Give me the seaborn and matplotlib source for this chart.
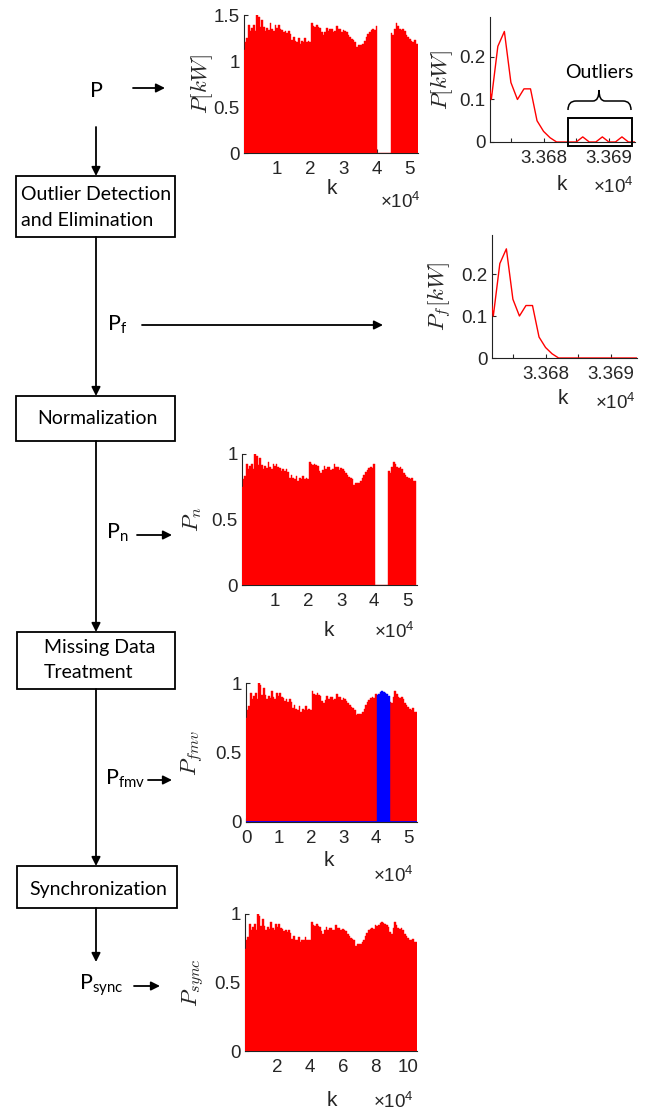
import numpy as np
import matplotlib
matplotlib.use('Agg')
import matplotlib.pyplot as plt
from matplotlib.patches import Rectangle, PathPatch
from matplotlib.path import Path
import seaborn as sns

# raw power profile P [kW], one value every 500 samples (nan = missing block)
k_step = 500
p_kw = [1.12, 1.21, 1.25, 1.39, 1.33, 1.36, 1.39, 1.33, 1.50, 1.48,
        1.37, 1.45, 1.37, 1.33, 1.36, 1.34, 1.41, 1.35, 1.33, 1.39,
        1.36, 1.39, 1.35, 1.34, 1.31, 1.33, 1.30, 1.33, 1.29, 1.23,
        1.26, 1.22, 1.21, 1.25, 1.19, 1.22, 1.21, 1.25, 1.21, 1.22,
        1.21, 1.41, 1.38, 1.37, 1.39, 1.37, 1.36, 1.31, 1.28, 1.32,
        1.36, 1.33, 1.35, 1.35, 1.32, 1.33, 1.38, 1.35, 1.35, 1.32,
        1.34, 1.33, 1.31, 1.28, 1.26, 1.24, 1.23, 1.21, 1.15, 1.17,
        1.17, 1.17, 1.19, 1.22, 1.26, 1.29, 1.32, 1.34, 1.35, 1.34,
        1.38, np.nan, np.nan, np.nan, np.nan, np.nan, np.nan, np.nan, np.nan, 1.30,
        1.28, 1.35, 1.41, 1.38, 1.35, 1.34, 1.35, 1.33, 1.28, 1.26,
        1.24, 1.22, 1.21, 1.23, 1.19, 1.19]
# values filled in for the missing block (blue)
gap_fill_kw = [1.37, 1.38, 1.40, 1.41, 1.40, 1.39, 1.38, 1.36]

# zoomed window around the outliers
k_zoom = list(range(33671, 33696))
p_zoom_kw = [0.20, 0.10, 0.225, 0.26, 0.14, 0.10, 0.125, 0.125, 0.05, 0.025,
             0.01, 0, 0, 0, 0, 0.012, 0, 0, 0.012, 0, 0, 0.012, 0, 0, 0]
pf_zoom_kw = [0.20, 0.10, 0.225, 0.26, 0.14, 0.10, 0.125, 0.125, 0.05, 0.025,
              0.01, 0, 0, 0, 0, 0, 0, 0, 0, 0, 0, 0, 0, 0, 0]

p_arr = np.array(p_kw)
k_grid = np.arange(len(p_arr)) * k_step
gap = np.isnan(p_arr)
p_max = np.nanmax(p_arr)
pn = p_arr / p_max
filled = p_arr.copy()
filled[gap] = gap_fill_kw
pfmv = filled / p_max
blue = np.where(gap, pfmv, 0)

sns.set_style("ticks")
plt.rcParams['font.family'] = ['Liberation Sans', 'DejaVu Sans']
plt.rcParams['mathtext.fontset'] = 'cm'

W, H = 656, 1115
fig = plt.figure(figsize=(W / 100, H / 100), dpi=100)


def px_axes(left, top, right, bottom):
    return fig.add_axes([left / W, 1 - bottom / H, (right - left) / W, (bottom - top) / H])


def bars(ax, k, v, width, color):
    edges = list(np.append(k - width / 2, k[-1] + width / 2))
    sns.histplot(x=k, weights=np.nan_to_num(v), bins=edges, color=color, alpha=1,
                 linewidth=0.3, edgecolor=color, ax=ax, zorder=3)


def style(ax, ylabel, off, width_px):
    sns.despine(ax=ax)
    ax.tick_params(direction='in', length=3, width=0.8, labelsize=13.5)
    ax.tick_params(axis='x', pad=6)
    ax.tick_params(axis='y', pad=3)
    for s in ax.spines.values():
        s.set_color('#222222')
        s.set_linewidth(0.8)
    ax.set_xlabel('')
    ax.set_ylabel(ylabel, fontsize=16.5, va='center')
    ax.yaxis.set_label_coords(-off / width_px, 0.5)


def big_ticks(ax, ticks, labels):
    ax.set_xticks(ticks)
    ax.set_xticklabels(labels)
    ax.set_ylim(0, 1)
    ax.set_yticks([0, 0.5, 1])
    ax.set_yticklabels(['0', '0.5', '1'])


# panel 1: raw P
ax1 = px_axes(244, 15, 418, 153)
bars(ax1, k_grid, p_arr, k_step, 'red')
ax1.set_xlim(0, 52500)
ax1.set_ylim(0, 1.5)
ax1.set_yticks([0, 0.5, 1, 1.5])
ax1.set_yticklabels(['0', '0.5', '1', '1.5'])
ax1.set_xticks([10000, 20000, 30000, 40000, 50000])
ax1.set_xticklabels(['1', '2', '3', '4', '5'])
style(ax1, r'$P[kW]$', 42, 174)

# panel 2: zoom with outliers
ax2 = px_axes(490, 17, 635, 142)
sns.lineplot(x=k_zoom, y=p_zoom_kw, color='red', lw=1, ax=ax2, zorder=3)
ax2.set_xlim(33671.8, 33694)
ax2.set_ylim(0, 0.294)
ax2.set_yticks([0, 0.1, 0.2])
ax2.set_yticklabels(['0', '0.1', '0.2'])
ax2.set_xticks([33675, 33680, 33685, 33690])
ax2.set_xticklabels(['', '3.368', '', '3.369'])
style(ax2, r'$P[kW]$', 48, 145)
ax2.add_patch(Rectangle((33683.8, -0.009), 9.7, 0.066, fill=False, lw=1.4,
                        edgecolor='black', clip_on=False, zorder=4))

# panel 3: zoom after filtering
ax3 = px_axes(492, 235, 637, 358)
sns.lineplot(x=k_zoom, y=pf_zoom_kw, color='red', lw=1, ax=ax3, zorder=3)
ax3.set_xlim(33671.8, 33694)
ax3.set_ylim(0, 0.293)
ax3.set_yticks([0, 0.1, 0.2])
ax3.set_yticklabels(['0', '0.1', '0.2'])
ax3.set_xticks([33675, 33680, 33685, 33690])
ax3.set_xticklabels(['', '3.368', '', '3.369'])
style(ax3, r'$P_f[kW]$', 52, 145)

# panel 4: normalized
ax4 = px_axes(242, 454, 417, 585)
bars(ax4, k_grid, pn, k_step, 'red')
ax4.set_xlim(0, 53000)
big_ticks(ax4, [10000, 20000, 30000, 40000, 50000], ['1', '2', '3', '4', '5'])
style(ax4, r'$P_n$', 50, 175)

# panel 5: missing values filled
ax5 = px_axes(246, 683, 417, 822)
bars(ax5, k_grid, np.where(gap, 0, pfmv), k_step, 'red')
bars(ax5, k_grid, blue, k_step, 'blue')
ax5.axhline(0, color='blue', lw=1.2, zorder=5)
ax5.set_xlim(0, 52700)
big_ticks(ax5, [0, 10000, 20000, 30000, 40000, 50000], ['0', '1', '2', '3', '4', '5'])
style(ax5, r'$P_{fmv}$', 53, 171)

# panel 6: synchronized (double sampling)
ax6 = px_axes(245, 914, 417, 1051)
bars(ax6, k_grid * 2, pfmv, k_step * 2, 'red')
ax6.set_xlim(0, 105500)
big_ticks(ax6, [20000, 40000, 60000, 80000, 100000], ['2', '4', '6', '8', '10'])
style(ax6, r'$P_{sync}$', 51, 172)

# flowchart overlay in pixel coordinates
ov = fig.add_axes([0, 0, 1, 1])
ov.set_xlim(0, W)
ov.set_ylim(H, 0)
ov.axis('off')
ov.patch.set_alpha(0)

lato = dict(family=['Lato', 'DejaVu Sans'], color='black')
box_fs = 14
sig_fs = 15.5


def arrow(x0, y0, x1, y1):
    ov.annotate('', xy=(x1, y1), xytext=(x0, y0),
                arrowprops=dict(arrowstyle='-|>', lw=1.3, color='black',
                                mutation_scale=13, shrinkA=0, shrinkB=0))


def box(x0, y0, x1, y1):
    ov.add_patch(Rectangle((x0, y0), x1 - x0, y1 - y0, fill=False, lw=1.3, edgecolor='black'))


ov.text(96, 91, 'P', fontsize=sig_fs, ha='center', va='center', **lato)
arrow(133, 88, 165, 88)
arrow(96, 127, 96, 176)

box(16, 176, 175, 237)
ov.text(21, 195, 'Outlier Detection', fontsize=box_fs, ha='left', va='center', **lato)
ov.text(21, 220, 'and Elimination', fontsize=box_fs, ha='left', va='center', **lato)
arrow(96, 237, 96, 396)
ov.text(107, 325, r'$\mathregular{P_{f}}$', fontsize=sig_fs, ha='left', va='center', **lato)
arrow(142, 325, 383, 325)

box(16, 396, 175, 441)
ov.text(37, 418, 'Normalization', fontsize=box_fs, ha='left', va='center', **lato)
arrow(96, 441, 96, 632)
ov.text(106, 533, r'$\mathregular{P_{n}}$', fontsize=sig_fs, ha='left', va='center', **lato)
arrow(137, 535, 172, 535)

box(17, 632, 175, 689)
ov.text(44, 648, 'Missing Data', fontsize=box_fs, ha='left', va='center', **lato)
ov.text(44, 673, 'Treatment', fontsize=box_fs, ha='left', va='center', **lato)
arrow(96, 689, 96, 866)
ov.text(105, 779, r'$\mathregular{P_{fmv}}$', fontsize=sig_fs, ha='left', va='center', **lato)
arrow(148, 780, 172, 780)

box(17, 866, 177, 908)
ov.text(29, 889, 'Synchronization', fontsize=box_fs, ha='left', va='center', **lato)
arrow(96, 908, 96, 962)
ov.text(79, 985, r'$\mathregular{P_{sync}}$', fontsize=sig_fs, ha='left', va='center', **lato)
arrow(134, 986, 160, 986)

# brace over the outliers
brace = Path([(568, 110), (568, 101), (576, 101), (593, 101), (599, 101), (599, 90),
              (599, 101), (605, 101), (623, 101), (631, 101), (631, 110)],
             [Path.MOVETO, Path.CURVE3, Path.CURVE3, Path.LINETO, Path.CURVE3, Path.CURVE3,
              Path.CURVE3, Path.CURVE3, Path.LINETO, Path.CURVE3, Path.CURVE3])
ov.add_patch(PathPatch(brace, fill=False, lw=1.1, edgecolor='black'))
ov.text(599, 72, 'Outliers', fontsize=box_fs, ha='center', va='center', **lato)

# axis captions
for kx, ky, ex, ey in [(332, 188, 400, 202), (562, 185, 613, 187), (563, 399, 615, 403),
                       (329, 630, 394, 632), (329, 861, 393, 876), (332, 1100, 393, 1102)]:
    ov.text(kx, ky, 'k', fontsize=15, ha='center', va='center')
    ov.text(ex, ey, r'$\mathregular{\times10^{4}}$', fontsize=13.5, ha='center', va='center')

fig.savefig('out.png', dpi=100)
